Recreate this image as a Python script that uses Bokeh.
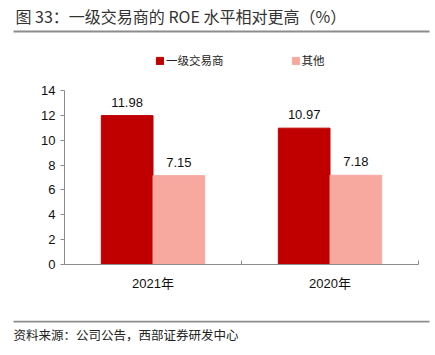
import numpy as np
from bokeh.plotting import figure
from bokeh.layouts import column
from bokeh.models import (ColumnDataSource, Range1d, FixedTicker, Legend, LegendItem)
from bokeh.core.properties import value
from bokeh.embed import file_html
from bokeh.resources import INLINE

# ---- data ----
categories = ["2021年", "2020年"]
series_names = ["一级交易商", "其他"]
primary_dealers = [11.98, 10.97]
others = [7.15, 7.18]
y_ticks = [0, 2, 4, 6, 8, 10, 12, 14]
y_max = 14
title_text = "图 33：一级交易商的 ROE 水平相对更高（%）"
source_text = "资料来源：公司公告，西部证券研发中心"

RED = "#C00000"
PINK = "#F7A9A0"
GRAY = "#8C8C8C"
CJK = "Noto Sans CJK SC"
NUM = "Liberation Sans, Noto Sans CJK SC"
W = 435


def blank(h):
    f = figure(width=W, height=h, output_backend="svg", toolbar_location=None,
               x_range=Range1d(0, W), y_range=Range1d(h, 0),
               x_axis_type=None, y_axis_type=None, min_border=0,
               frame_align=False)
    f.outline_line_color = None
    f.grid.visible = False
    return f


# ---- header: title + rule ----
header = blank(45)
header.text(x=[15], y=[15], text=[title_text], text_font=value(CJK),
            text_font_size="16px", text_baseline="middle", text_color="#333333")
header.segment(x0=[13], y0=[31], x1=[429], y1=[31], line_color=GRAY, line_width=2)

# ---- main chart ----
centers = np.arange(len(categories)) + 0.5
off = 0.146
bw = 0.292

src = ColumnDataSource(dict(
    x1=centers - off, x2=centers + off,
    y1=primary_dealers, y2=others,
    t1=[f"{v:.2f}" for v in primary_dealers],
    t2=[f"{v:.2f}" for v in others],
))

frame_h = 219          # pixel height of frame (top of main figure to x axis)
plot_h = 174           # pixel height of the 0..14 value range
p = figure(width=W, height=275, output_backend="svg", toolbar_location=None,
           x_range=Range1d(0, len(categories)),
           y_range=Range1d(0, y_max * frame_h / plot_h),
           min_border_left=64, min_border_right=17, min_border_top=0,
           min_border_bottom=275 - frame_h, frame_align=False)
p.outline_line_color = None
p.grid.visible = False

r1 = p.vbar(x="x1", top="y1", width=bw, source=src, fill_color=RED, line_color=RED)
r2 = p.vbar(x="x2", top="y2", width=bw, source=src, fill_color=PINK, line_color=PINK)

for xc, yc, tc in (("x1", "y1", "t1"), ("x2", "y2", "t2")):
    p.text(x=xc, y=yc, text=tc, source=src, text_align="center",
           text_baseline="bottom", y_offset=-9, text_font=value("Liberation Sans"),
           text_font_size="13px", text_color="#111111")

ya = p.yaxis[0]
ya.ticker = FixedTicker(ticks=y_ticks)
ya.bounds = (0, y_max)
ya.axis_line_color = GRAY
ya.major_tick_line_color = GRAY
ya.major_tick_in = 0
ya.major_tick_out = 4
ya.minor_tick_line_color = None
ya.major_label_text_font = "Liberation Sans"
ya.major_label_text_font_size = "13px"
ya.major_label_text_color = "#111111"
ya.major_label_standoff = 5

xa = p.xaxis[0]
xa.ticker = FixedTicker(ticks=list(centers), minor_ticks=list(range(len(categories) + 1)))
xa.major_label_overrides = {float(c): lab for c, lab in zip(centers, categories)}
xa.axis_line_color = GRAY
xa.major_tick_line_color = None
xa.minor_tick_line_color = GRAY
xa.minor_tick_in = 4
xa.minor_tick_out = 0
xa.major_label_text_font = NUM
xa.major_label_text_font_size = "13px"
xa.major_label_text_color = "#111111"
xa.major_label_standoff = 5

legend = Legend(items=[LegendItem(label=series_names[0], renderers=[r1]),
                       LegendItem(label=series_names[1], renderers=[r2])],
                orientation="horizontal", location=(91, 196),
                glyph_width=9, glyph_height=9, label_standoff=2, spacing=67,
                padding=0, margin=0, border_line_color=None,
                background_fill_alpha=0, label_text_font=CJK,
                label_text_font_size="11.5px", label_height=12,
                label_text_color="#222222")
p.add_layout(legend)

# ---- footer: rule + source ----
footer = blank(35)
footer.segment(x0=[13], y0=[1], x1=[429], y1=[1], line_color=GRAY, line_width=2)
footer.text(x=[13], y=[14], text=[source_text], text_font=value(CJK),
            text_font_size="12.5px", text_baseline="middle", text_color="#222222")

layout = column(header, p, footer, spacing=0)
open("out.html", "w").write(file_html(layout, INLINE))
